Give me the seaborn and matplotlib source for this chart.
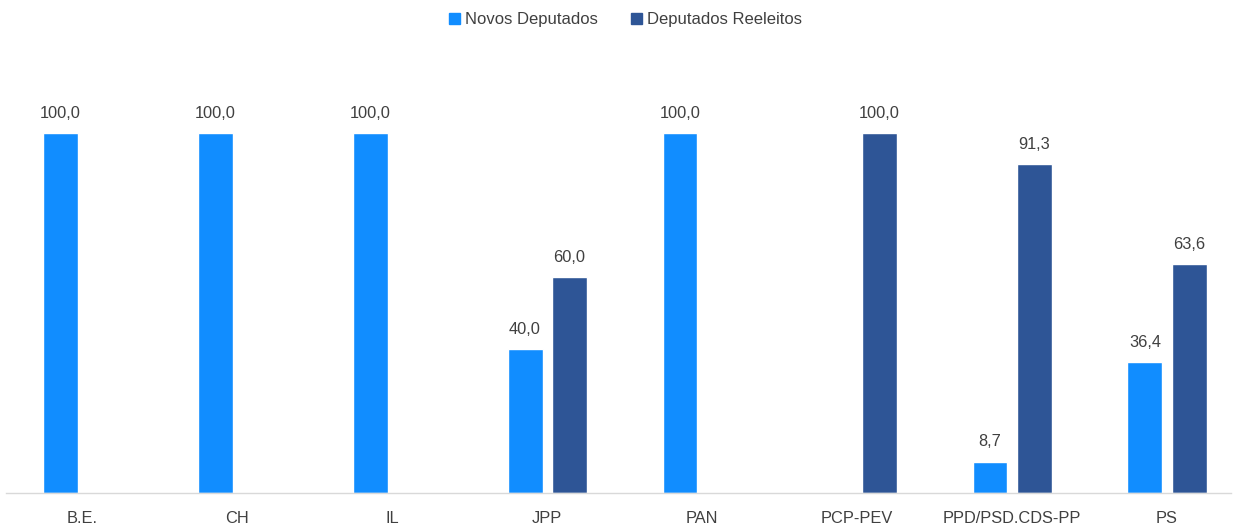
import matplotlib
matplotlib.use("Agg")
import matplotlib.pyplot as plt
import seaborn as sns
import pandas as pd

# ── Data ─────────────────────────────────────────────────────────────────────
partidos   = ["B.E.", "CH", "IL", "JPP", "PAN", "PCP-PEV", "PPD/PSD.CDS-PP", "PS"]
novos      = [100.0, 100.0, 100.0, 40.0, 100.0, 0.0, 8.7, 36.4]
reeleitos  = [0.0, 0.0, 0.0, 60.0, 0.0, 100.0, 91.3, 63.6]
series     = ["Novos Deputados", "Deputados Reeleitos"]

LIGHT = "#118DFF"
DARK  = "#2E5596"
TEXT  = "#404040"

df = pd.DataFrame({
    "partido": partidos * 2,
    "serie":   [series[0]] * len(partidos) + [series[1]] * len(partidos),
    "valor":   novos + reeleitos,
})

sns.set_theme(style="white")
plt.rcParams["font.family"] = ["Liberation Sans", "DejaVu Sans"]

fig = plt.figure(figsize=(12.33, 5.27), dpi=100, facecolor="white")
ax = fig.add_axes([0.005, 0.0645, 0.993, 0.8195])

sns.barplot(
    data=df, x="partido", y="valor", hue="serie",
    order=partidos, hue_order=series,
    palette=[LIGHT, DARK], width=0.57, gap=0.21,
    ax=ax, legend=False, saturation=1,
)

# value labels (only for bars that exist)
for cont in ax.containers:
    labels = [f"{b.get_height():.1f}".replace(".", ",") if b.get_height() > 0 else ""
              for b in cont]
    ax.bar_label(cont, labels=labels, padding=9, fontsize=11.8, color=TEXT)

ax.set_ylim(0, 120)
ax.set_xlim(-0.491, 7.41)
ax.set_xlabel("")
ax.set_ylabel("")
ax.set_yticks([])
ax.tick_params(axis="x", length=0, pad=13, labelsize=11.8, labelcolor=TEXT)
for side in ["top", "left", "right"]:
    ax.spines[side].set_visible(False)
ax.spines["bottom"].set_color("#D9D9D9")
ax.spines["bottom"].set_linewidth(1.0)

# legend at the top
handles = [plt.Rectangle((0, 0), 1, 1, color=c) for c in [LIGHT, DARK]]
fig.legend(
    handles, series, loc="center", bbox_to_anchor=(0.507, 0.963),
    ncol=2, frameon=False, fontsize=12, labelcolor=TEXT,
    handlelength=0.65, handleheight=0.65, handletextpad=0.3, columnspacing=2.0,
)

fig.savefig("out.png", dpi=100, facecolor="white")
